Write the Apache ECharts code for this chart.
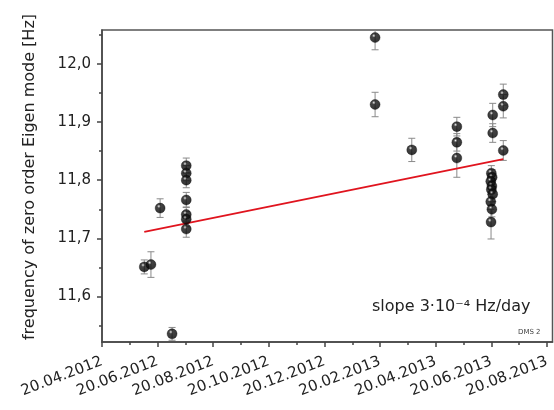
<!DOCTYPE html>
<html>
<head>
<meta charset="utf-8">
<script src="https://cdn.jsdelivr.net/npm/echarts@6/dist/echarts.min.js"></script>
<style>
html,body{margin:0;padding:0;background:#fff;}
#chart{width:554px;height:410px;}
</style>
</head>
<body>
<div id="chart"></div>
<script>
// x in months since 20.04.2012
const xTickLabels = ["20.04.2012","20.06.2012","20.08.2012","20.10.2012","20.12.2012","20.02.2013","20.04.2013","20.06.2013","20.08.2013"];
const xMajorTicks = [0,2,4,6,8,10,12,14,16];
const xMinorTicks = [1,3,5,7,9,11,13,15];
const yMajorTicks = [11.6,11.7,11.8,11.9,12.0];
const yMinorTicks = [11.55,11.65,11.75,11.85,11.95,12.05];

const xMonths = [1.52,1.76,2.09,2.52,
  3.03,3.03,3.03,3.03,3.03,3.03,3.03,
  9.82,9.82,11.14,
  12.76,12.76,12.76,
  14.05,14.05,14.43,14.43,14.43,
  14.00,14.03,13.98,14.02,14.00,14.05,13.98,14.02,13.99];
const freqHz = [11.651,11.655,11.752,11.536,
  11.825,11.812,11.800,11.766,11.741,11.733,11.716,
  12.045,11.930,11.852,
  11.892,11.865,11.838,
  11.912,11.881,11.947,11.927,11.851,
  11.812,11.805,11.798,11.790,11.784,11.776,11.763,11.750,11.728];
const errHz = [0.012,0.022,0.016,0.011,
  0.013,0.013,0.013,0.013,0.013,0.013,0.014,
  0.021,0.021,0.020,
  0.016,0.015,0.033,
  0.020,0.016,0.018,0.020,0.017,
  0.013,0.013,0.013,0.013,0.013,0.013,0.013,0.013,0.029];

const fitMonths = [1.52,14.43];
const fitHz = [11.711,11.836];

const pts = xMonths.map((x,i)=>[x,freqHz[i],errHz[i]]);
const fit = fitMonths.map((x,i)=>[x,fitHz[i]]);

const FONT = 'DejaVu Sans';
const chart = echarts.init(document.getElementById('chart'));
const ball = {
  type:'radial', x:0.38, y:0.32, r:0.7,
  colorStops:[{offset:0,color:'#ffffff'},{offset:0.08,color:'#a0a0a0'},{offset:0.25,color:'#151515'},{offset:1,color:'#000'}]
};
chart.setOption({
  animation:false,
  grid:{left:102,right:1.5,top:30,bottom:68,show:true,borderColor:'#555',borderWidth:1.5,backgroundColor:'transparent'},
  xAxis:[{
    type:'value',min:0,max:16.2,
    axisLine:{lineStyle:{color:'#444',width:1.5}},
    axisTick:{customValues:xMajorTicks,length:5,lineStyle:{color:'#444',width:1.5}},
    axisLabel:{customValues:xMajorTicks,rotate:21,margin:19,fontFamily:FONT,fontSize:15,color:'#222',
      formatter:v=>xTickLabels[Math.round(v/2)]},
    splitLine:{show:false}
  },{
    type:'value',min:0,max:16.2,position:'bottom',
    axisLine:{show:false},
    axisTick:{customValues:xMinorTicks,length:3,lineStyle:{color:'#444',width:1.5}},
    axisLabel:{show:false},splitLine:{show:false}
  }],
  yAxis:[{
    type:'value',min:11.522,max:12.058,
    name:'frequency of zero order Eigen mode [Hz]',nameLocation:'middle',nameGap:64,
    nameTextStyle:{fontFamily:FONT,fontSize:16,color:'#222',padding:[0,0,0,18]},
    axisLine:{show:true,lineStyle:{color:'#444',width:1.5}},
    axisTick:{show:true,customValues:yMajorTicks,length:5,lineStyle:{color:'#444',width:1.5}},
    axisLabel:{customValues:yMajorTicks,margin:11,fontFamily:FONT,fontSize:15,color:'#222',
      formatter:v=>v.toFixed(1).replace('.',',')},
    splitLine:{show:false}
  },{
    type:'value',min:11.522,max:12.058,position:'left',
    axisLine:{show:false},
    axisTick:{show:true,customValues:yMinorTicks,length:3,lineStyle:{color:'#444',width:1.5}},
    axisLabel:{show:false},splitLine:{show:false}
  }],
  series:[{
    type:'custom',clip:true,z:2,
    data:pts,
    encode:{x:0,y:1},
    renderItem:function(params,api){
      const x=api.value(0),y=api.value(1),e=api.value(2);
      const t=api.coord([x,y+e]),b=api.coord([x,y-e]);
      const w=3.5;
      const st={stroke:'#8a8a8a',lineWidth:1};
      return {type:'group',children:[
        {type:'line',shape:{x1:t[0],y1:t[1],x2:b[0],y2:b[1]},style:st},
        {type:'line',shape:{x1:t[0]-w,y1:t[1],x2:t[0]+w,y2:t[1]},style:st},
        {type:'line',shape:{x1:b[0]-w,y1:b[1],x2:b[0]+w,y2:b[1]},style:st}
      ]};
    }
  },{
    type:'line',data:fit,symbol:'none',z:3,
    lineStyle:{color:'#e0141e',width:1.8}
  },{
    type:'scatter',data:pts.map(p=>[p[0],p[1]]),symbol:'circle',symbolSize:10,z:4,
    itemStyle:{color:ball,borderColor:'#000',borderWidth:0.4}
  }],
  graphic:[
    {type:'text',left:372,top:299,style:{text:'slope 3·10⁻⁴ Hz/day',font:'16px "DejaVu Sans"',fill:'#222'}},
    {type:'text',left:518,top:329,style:{text:'DMS 2',font:'7px "DejaVu Sans"',fill:'#444'}}
  ]
});
</script>
</body>
</html>
